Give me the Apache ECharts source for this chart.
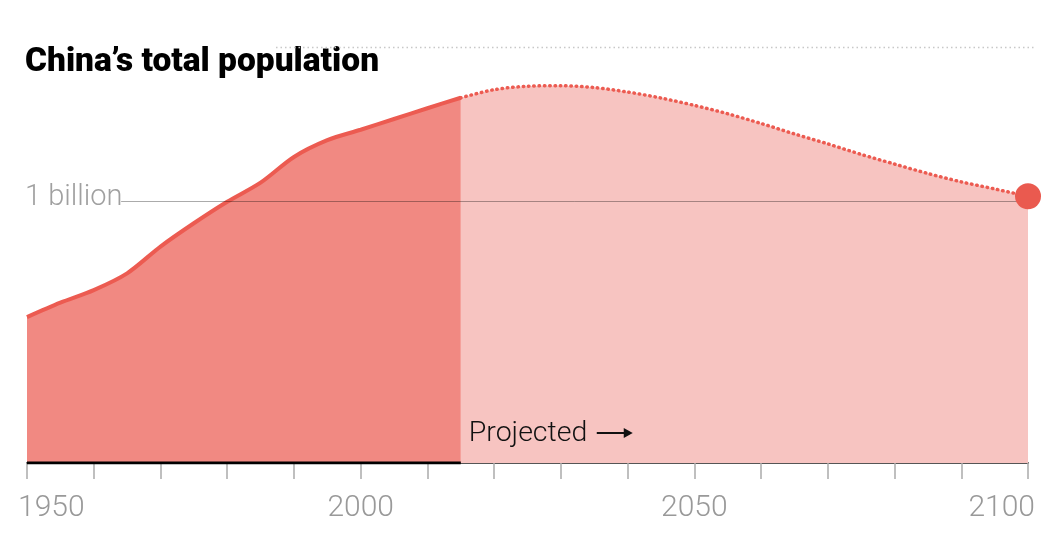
<!DOCTYPE html>
<html>
<head>
<meta charset="utf-8">
<script src="https://cdn.jsdelivr.net/npm/echarts@6/dist/echarts.min.js"></script>
<style>
html,body{margin:0;padding:0;background:#fff;}
#chart{width:1050px;height:549px;}
</style>
</head>
<body>
<div id="chart"></div>
<script>
// Data (population in billions)
const histYears = [1950,1955,1960,1965,1970,1975,1980,1985,1990,1995,2000,2005,2010,2015];
const histValues = [0.557,0.612,0.660,0.724,0.826,0.915,0.997,1.070,1.168,1.232,1.272,1.313,1.354,1.394];
const projYears = [2015,2020,2025,2030,2035,2040,2045,2050,2055,2060,2065,2070,2075,2080,2085,2090,2095,2100];
const projValues = [1.394,1.425,1.438,1.440,1.433,1.416,1.393,1.365,1.333,1.296,1.256,1.218,1.178,1.141,1.105,1.073,1.046,1.018];
const tickLabels = [1950,2000,2050,2100];
const refValue = 1;
const refLabel = '1 billion';
const titleText = 'China\u2019s total population';
const projLabel = 'Projected';

const hist = histYears.map((y,i)=>[y,histValues[i]]);
const proj = projYears.map((y,i)=>[y,projValues[i]]);
const lastPt = proj[proj.length-1];

const chart = echarts.init(document.getElementById('chart'), null, {renderer:'canvas'});
const FONT = 'Roboto';
const option = {
  animation:false,
  backgroundColor:'#fff',
  title:{
    text:titleText, left:20, top:41,
    textStyle:{fontFamily:FONT,fontWeight:900,fontSize:33.5,color:'#000'}
  },
  grid:{left:27,right:22,top:43.8,bottom:86,containLabel:false,outerBoundsMode:'none'},
  xAxis:{
    type:'value',min:1950,max:2100,interval:10,
    axisLine:{show:true,lineStyle:{color:'#555',width:2}},
    axisTick:{show:true,length:16,lineStyle:{color:'#aaa',width:1.5}},
    axisLabel:{show:false},
    splitLine:{show:false}
  },
  yAxis:{
    type:'value',min:0,max:1.6,
    axisLine:{show:false},axisTick:{show:false},axisLabel:{show:false},splitLine:{show:false}
  },
  series:[
    {
      type:'line',data:proj,smooth:0.3,showSymbol:false,z:2,
      lineStyle:{color:'#ec5b51',width:3.5,type:[0.5,4.8],cap:'round'},
      areaStyle:{color:'#f7c4c1',opacity:1}
    },
    {
      type:'line',data:hist,smooth:0.3,showSymbol:false,z:3,
      lineStyle:{color:'#ec5b51',width:4},
      areaStyle:{color:'#f18982',opacity:1}
    },
    {
      type:'line',data:[[histYears[0],0],[histYears[histYears.length-1],0]],showSymbol:false,z:6,
      lineStyle:{color:'#000',width:3},silent:true
    },
    {
      type:'line',data:[],z:5,silent:true,
      markLine:{
        silent:true,symbol:'none',label:{show:false},
        lineStyle:{color:'rgba(0,0,0,0.33)',width:1,type:'solid'},
        data:[[{coord:[1964.1,refValue]},{coord:[2100,refValue]}]]
      }
    },
    {
      type:'scatter',data:[lastPt],symbolSize:26,z:8,
      itemStyle:{color:'#ea5a4f',opacity:1}
    }
  ]
};
chart.setOption(option);

function px(pt){return chart.convertToPixel({gridIndex:0},pt);}
const graphics = [];
// top dotted rule
graphics.push({type:'line',shape:{x1:276,y1:47.5,x2:1034,y2:47.5},
  style:{stroke:'#c8c8c8',lineWidth:1.5,lineDash:[1.5,3]},z:10});
// tick labels
tickLabels.forEach((t,i)=>{
  const p = px([t,0]);
  let x = p[0], align='center';
  if(i===0){x = p[0]-9; align='left';}
  if(i===tickLabels.length-1){x = p[0]+7; align='right';}
  graphics.push({type:'text',x:x,y:p[1]+45,
    style:{text:String(t),fill:'#999',font:'300 30px '+FONT,textAlign:align,textVerticalAlign:'middle'},z:10});
});
// 1 billion label
const rp = px([histYears[0],refValue]);
graphics.push({type:'text',x:rp[0]-2,y:rp[1]-3,
  style:{text:refLabel,fill:'#a0a0a0',font:'300 29px '+FONT,textAlign:'left',textVerticalAlign:'middle'},z:10});
// Projected label + arrow
const pp = px([projYears[0],0]);
graphics.push({type:'text',x:pp[0]+8,y:pp[1]-29,
  style:{text:projLabel,fill:'#111',font:'300 28.5px '+FONT,textAlign:'left',textVerticalAlign:'middle'},z:10});
graphics.push({type:'line',shape:{x1:pp[0]+136,y1:pp[1]-30,x2:pp[0]+164,y2:pp[1]-30},
  style:{stroke:'#111',lineWidth:2},z:10});
graphics.push({type:'polygon',shape:{points:[[pp[0]+163,pp[1]-35],[pp[0]+172,pp[1]-30],[pp[0]+163,pp[1]-25]]},
  style:{fill:'#111'},z:10});
chart.setOption({graphic:graphics});
</script>
</body>
</html>
